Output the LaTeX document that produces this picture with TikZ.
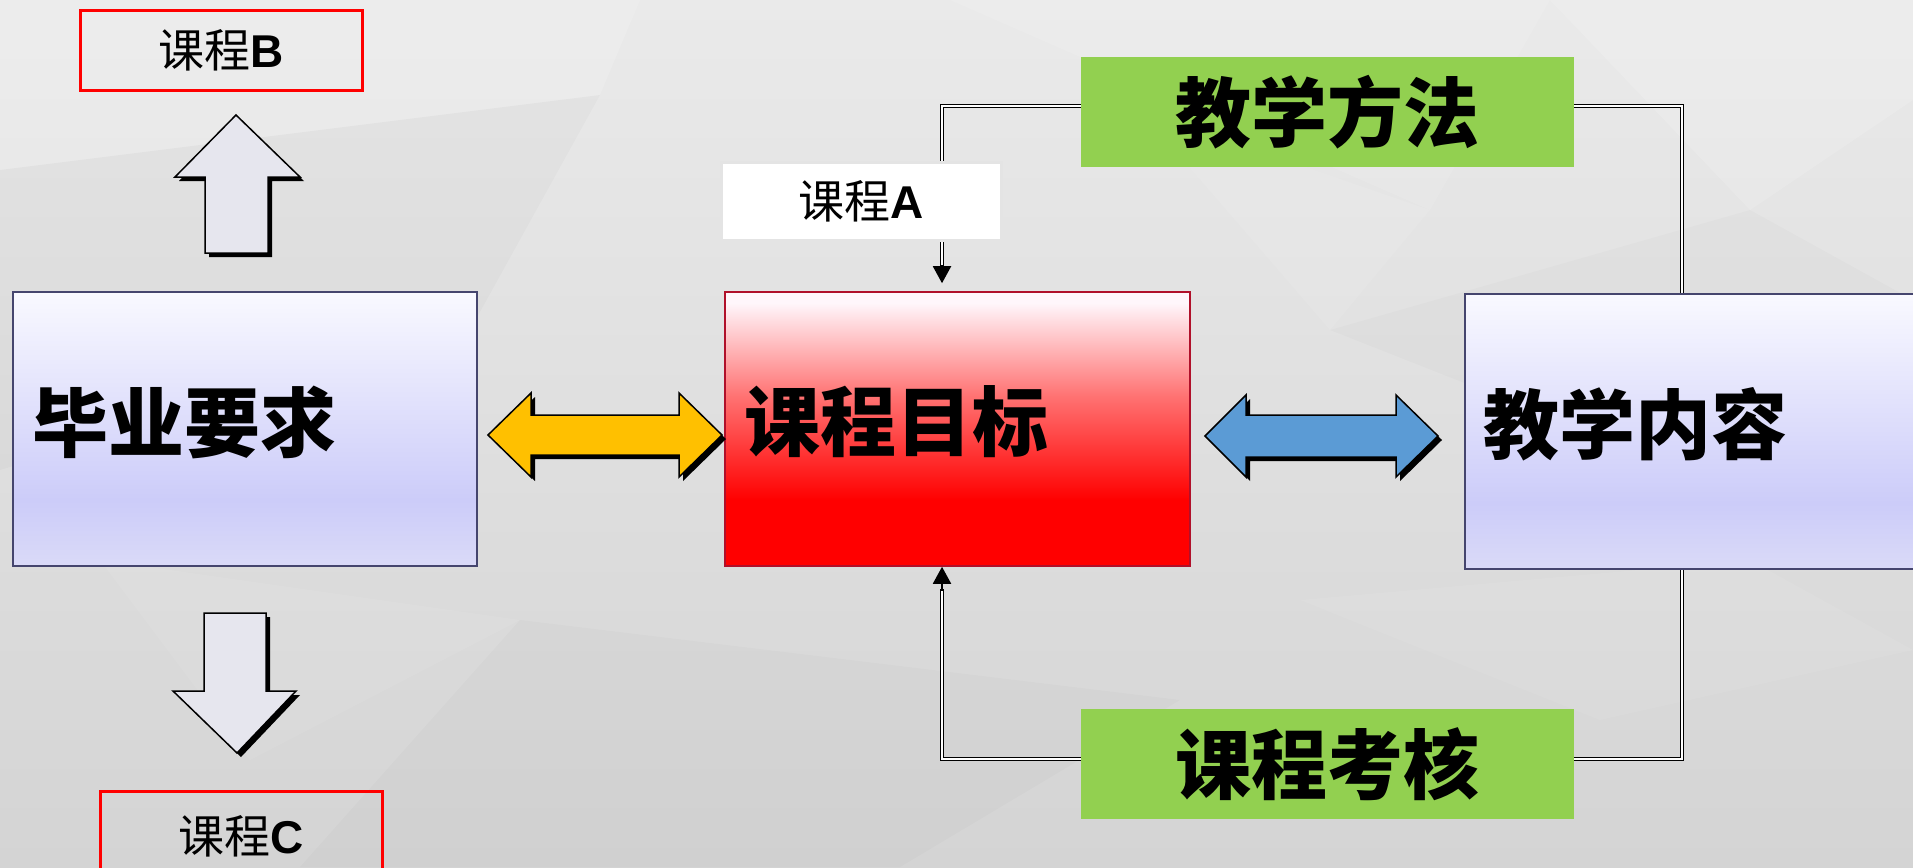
\documentclass[tikz,border=0pt]{standalone}
\usepackage{fontspec}
\newfontfamily\cjk{Noto Sans CJK SC}
\newfontfamily\lat{Liberation Sans}
\usetikzlibrary{arrows.meta,calc}
\definecolor{lavT}{HTML}{F9F9FF}
\definecolor{lavM}{HTML}{CCCCF9}
\definecolor{lavB}{HTML}{DADAF8}
\definecolor{boxedge}{HTML}{45456E}
\definecolor{redT}{HTML}{FFF6FB}
\definecolor{redM}{HTML}{FF7272}
\definecolor{redB}{HTML}{FF0000}
\definecolor{rededge}{HTML}{B0102A}
\definecolor{bgT}{HTML}{EAEAEA}
\definecolor{bgB}{HTML}{D4D4D4}
\definecolor{greenbox}{HTML}{92D050}
\definecolor{yelarrow}{HTML}{FFC000}
\definecolor{bluearrow}{HTML}{5B9BD5}
\definecolor{blockfill}{HTML}{E6E6EE}
\definecolor{abox}{HTML}{E4E4E4}
\pgfdeclareverticalshading{lavshade}{100bp}{color(0bp)=(lavB); color(25bp)=(lavB); color(37bp)=(lavM); color(75bp)=(lavT); color(100bp)=(lavT)}
\pgfdeclareverticalshading{redshade}{100bp}{color(0bp)=(redB); color(37bp)=(redB); color(56bp)=(redM); color(73bp)=(redT); color(100bp)=(redT)}
\pgfdeclareverticalshading{bgshade}{100bp}{color(0bp)=(bgB); color(25bp)=(bgB); color(75bp)=(bgT); color(100bp)=(bgT)}
\newcommand{\liftup}[2]{\raisebox{#1}[\height][\depth]{#2}}
\tikzset{
  bigtext/.style={font=\cjk\bfseries\fontsize{76}{80}\selectfont},
  mainbox/.style={bigtext, line width=1.6pt, minimum height=274pt, align=left, inner ysep=0pt},
  lavbox/.style={mainbox, draw=boxedge, shading=lavshade},
  redbox/.style={mainbox, draw=rededge, shading=redshade},
  greenlabel/.style={bigtext, fill=greenbox, minimum width=493pt, minimum height=110pt, inner sep=0pt},
  courselabel/.style={font=\fontsize{46}{50}\selectfont, minimum width=282pt, minimum height=79pt, inner sep=0pt},
  redframe/.style={courselabel, draw=red, line width=3pt},
  conn/.style={draw=black, line width=1.8pt, double=white, double distance=1.2pt},
  tipline/.style={line width=2pt, -{Triangle[width=18pt,length=17pt]}},
  blockedge/.style={draw=black, line width=1.5pt, line join=miter},
  shadowfill/.style={fill=black}
}
\begin{document}
\begin{tikzpicture}[x=1pt,y=-1pt]
\clip (0,0) rectangle (1913,867);
% background
\fill[shading=bgshade] (0,0) rectangle (1913,867);
\fill[white,opacity=0.14] (0,0) -- (640,0) -- (600,95) -- (0,170) -- cycle;
\fill[white,opacity=0.10] (950,0) -- (1550,0) -- (1430,210) -- cycle;
\fill[white,opacity=0.14] (1550,0) -- (1913,0) -- (1913,100) -- (1750,210) -- cycle;
\fill[black,opacity=0.02] (0,170) -- (600,95) -- (470,330) -- (0,470) -- cycle;
\fill[white,opacity=0.08] (1140,110) -- (1430,210) -- (1330,330) -- cycle;
\fill[black,opacity=0.015] (1330,330) -- (1750,210) -- (1913,300) -- (1913,560) -- cycle;
\fill[white,opacity=0.07] (100,560) -- (520,620) -- (250,760) -- cycle;
\fill[black,opacity=0.015] (520,620) -- (1180,700) -- (900,867) -- (300,867) -- cycle;
\fill[white,opacity=0.06] (1300,600) -- (1750,560) -- (1913,650) -- (1600,720) -- cycle;

% main boxes
\node[lavbox, minimum width=464pt, text width=426pt, inner xsep=19pt] (req) at (245,429)
  {\liftup{7pt}{毕业要求}};
\node[redbox, minimum width=465pt, text width=427pt, inner xsep=19pt] (goal) at (957.5,429)
  {\liftup{7pt}{课程目标}};
\node[lavbox, minimum width=500pt, minimum height=275pt, text width=464pt, inner xsep=18pt] (cont) at (1715,431.5)
  {\liftup{7pt}{教学内容}};

% green labels
\node[greenlabel] (fa) at (1327.5,112) {教学方法};
\node[greenlabel] (kh) at (1327.5,764) {课程考核};

% connectors (double lines)
\draw[conn] ([yshift=6pt]fa.west) -| ([xshift=-15.5pt,yshift=24pt]goal.north);
\draw[tipline] ([xshift=-15.5pt,yshift=26pt]goal.north) -- ([xshift=-15.5pt,yshift=8pt]goal.north);
\draw[conn] ([yshift=6pt]fa.east) -| ([xshift=-33pt]cont.north);
\draw[conn] ([xshift=-33pt]cont.south) |- ([yshift=5pt]kh.east);
\draw[conn] ([yshift=5pt]kh.west) -| ([xshift=-15.5pt,yshift=-22pt]goal.south);
\draw[tipline] ([xshift=-15.5pt,yshift=-24pt]goal.south) -- ([xshift=-15.5pt]goal.south);

% course A box (over the line)
\node[courselabel, draw=abox, fill=white, line width=3pt, minimum width=280pt, minimum height=78pt] (ca) at (861,201)
  {{\cjk 课程}{\lat\bfseries A}};

% course B and C frames
\node[redframe] (cb) at (221,50.5) {{\cjk 课程}{\lat\bfseries B}};
\node[redframe, minimum height=90pt] (cc) at (241,836) {\raisebox{3pt}{{\cjk 课程}{\lat\bfseries C}}};

% up block arrow (to course B)
\fill[shadowfill] (239,119) -- (304,181) -- (272,181) -- (272,257) -- (209,257) -- (209,181) -- (179,181) -- cycle;
\filldraw[blockedge, fill=blockfill] (236,115) -- (300,177) -- (268,177) -- (268,253) -- (205,253) -- (205,177) -- (175,177) -- cycle;

% down block arrow (to course C)
\fill[shadowfill] (208,617) -- (270,617) -- (270,695) -- (300,695) -- (241,757) -- (177,695) -- (208,695) -- cycle;
\filldraw[blockedge, fill=blockfill] (204,613) -- (266,613) -- (266,691) -- (296,691) -- (237,753) -- (173,691) -- (204,691) -- cycle;

% yellow double arrow
\fill[shadowfill] (492,439) -- (535,397) -- (535,419) -- (683,419) -- (683,397) -- (726,439) -- (683,481) -- (683,459) -- (535,459) -- (535,481) -- cycle;
\filldraw[blockedge, fill=yelarrow] (488,435) -- (531,393) -- (531,415) -- (679,415) -- (679,393) -- (722,435) -- (679,477) -- (679,455) -- (531,455) -- (531,477) -- cycle;

% blue double arrow
\fill[shadowfill] (1209,440) -- (1250,399) -- (1250,419) -- (1400,419) -- (1400,399) -- (1442,440) -- (1400,481) -- (1400,461) -- (1250,461) -- (1250,481) -- cycle;
\filldraw[blockedge, fill=bluearrow] (1205,436) -- (1246,395) -- (1246,415) -- (1396,415) -- (1396,395) -- (1438,436) -- (1396,477) -- (1396,457) -- (1246,457) -- (1246,477) -- cycle;
\end{tikzpicture}
\end{document}
